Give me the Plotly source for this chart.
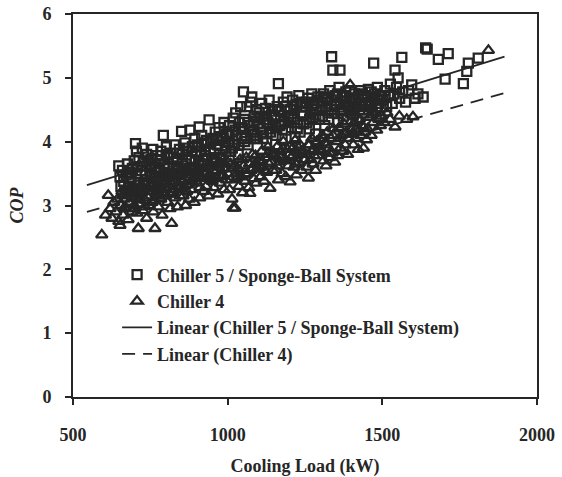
import plotly.graph_objects as go

# ---- Chiller 5 / Sponge-Ball System (squares) ----
chiller5_load_a = [
    648, 652, 655, 660, 664, 668, 672, 676, 680, 684, 688, 692, 695, 698,
    702, 705, 708, 710, 713, 716, 720, 724, 727, 730, 734, 738, 742, 746, 749,
    752, 755, 758, 762, 765, 768, 772, 776, 780, 784, 788, 792, 795, 798,
    802, 805, 808, 812, 816, 820, 824, 828, 832, 836, 840, 844, 848,
    851, 854, 858, 862, 866, 870, 874, 878, 882, 886, 890, 894, 898,
    902, 906, 908, 912, 916, 920, 924, 928, 932, 936, 940, 944, 948,
    952, 956, 960, 964, 968, 972, 976, 980, 984, 988, 992, 996,
    1002, 1006, 1010, 1014, 1018, 1022, 1026, 1030, 1034, 1038, 1042, 1046, 1049,
    1051, 1054, 1058, 1062, 1066, 1070, 1074, 1078, 1082, 1086, 1090, 1094, 1098,
    1102, 1106, 1110, 1114, 1118, 1122, 1126, 1130, 1134, 1138, 1142, 1146,
    1152, 1156, 1160, 1164, 1168, 1172, 1176, 1180, 1184, 1188, 1192, 1196,
    1202, 1206, 1210, 1214, 1218, 1222, 1226, 1230, 1234, 1238, 1242, 1246,
    1252, 1256, 1260, 1264, 1268, 1272, 1276, 1280, 1284, 1288, 1292, 1296,
    1302, 1306, 1310, 1314, 1318, 1322, 1326, 1330, 1334, 1336, 1340, 1344, 1348,
    1352, 1356, 1360, 1363, 1366, 1370, 1374, 1378, 1382, 1386, 1390, 1394, 1398,
    1402, 1406, 1410, 1414, 1418, 1422, 1426, 1430, 1434, 1438, 1442, 1446,
    1452, 1456, 1460, 1464, 1468, 1472, 1476, 1480, 1484, 1488, 1492, 1496,
    1502, 1508, 1514, 1520, 1526, 1532, 1538, 1541, 1546, 1551, 1556,
    1563, 1566, 1575, 1585, 1595, 1606, 1615, 1632, 1640, 1645, 1681, 1703, 1713, 1762, 1773, 1778, 1810,
]
chiller5_cop_a = [
    3.62, 3.45, 3.30, 3.55, 3.38, 3.20, 3.48, 3.65, 3.30, 3.52, 3.42, 3.58, 3.25, 3.70,
    3.97, 3.85, 3.60, 3.40, 3.75, 3.25, 3.55, 3.90, 3.35, 3.68, 3.48, 3.80, 3.15, 3.62, 3.45,
    3.72, 3.50, 3.88, 3.30, 3.60, 3.42, 3.78, 3.20, 3.55, 3.85, 3.38, 4.10, 3.65, 3.48,
    3.92, 3.58, 3.75, 3.35, 3.82, 3.50, 3.68, 3.95, 3.40, 3.72, 3.60, 3.88, 3.30,
    4.16, 3.80, 3.55, 3.98, 3.65, 3.85, 3.45, 4.18, 3.72, 3.92, 3.60, 4.05, 3.50,
    3.95, 3.70, 4.23, 3.85, 4.10, 3.62, 3.98, 3.78, 4.02, 3.55, 4.34, 3.88, 3.72,
    4.05, 3.82, 4.15, 3.68, 3.95, 4.22, 3.75, 4.08, 3.60, 4.30, 3.90, 4.12,
    4.00, 4.25, 3.85, 4.15, 4.37, 3.95, 4.45, 4.10, 3.80, 4.30, 4.55, 4.05, 4.20,
    4.78, 4.35, 4.10, 4.55, 3.95, 4.25, 4.62, 4.70, 4.15, 4.40, 4.05, 4.50, 4.28,
    4.45, 4.20, 4.60, 4.05, 4.35, 4.52, 3.98, 4.30, 4.65, 4.15, 4.42, 4.25,
    4.38, 4.10, 4.55, 4.91, 4.25, 4.48, 4.05, 4.62, 4.32, 4.18, 4.70, 4.40,
    4.50, 4.22, 4.65, 4.35, 4.08, 4.58, 4.30, 4.72, 4.15, 4.45, 4.62, 4.28,
    4.55, 4.30, 4.68, 4.20, 4.45, 4.75, 4.38, 4.60, 4.12, 4.50, 4.70, 4.35,
    4.62, 4.40, 4.75, 4.25, 4.55, 4.68, 4.35, 4.80, 4.50, 5.33, 5.12, 4.45, 4.72,
    4.58, 4.30, 4.85, 5.12, 4.48, 4.70, 4.40, 4.62, 4.78, 4.35, 4.55, 4.68, 4.45,
    4.65, 4.42, 4.75, 4.55, 4.35, 4.70, 4.50, 4.80, 4.60, 4.45, 4.72, 4.58,
    4.70, 4.50, 4.62, 4.78, 4.45, 5.23, 4.68, 4.55, 4.85, 4.60, 4.40, 4.72,
    4.65, 4.80, 4.55, 4.72, 4.90, 4.60, 4.75, 5.12, 4.85, 5.00, 4.68,
    5.32, 4.78, 4.62, 4.80, 4.89, 4.68, 4.75, 4.70, 5.47, 5.45, 5.29, 4.98, 5.38, 4.91, 5.10, 5.23, 5.31,
]
chiller5_load_b = [
    705, 715, 725, 735, 745, 755, 765, 775, 785, 795,
    805, 815, 825, 835, 845, 855, 865, 875, 885, 895,
    905, 915, 925, 935, 945, 955, 965, 975, 985, 995,
    1005, 1015, 1025, 1035, 1045, 1055, 1065, 1075, 1085, 1095,
    1105, 1115, 1125, 1135, 1145, 1155, 1165, 1175, 1185, 1195,
    1205, 1215, 1225, 1235, 1245, 1255, 1265, 1275, 1285, 1295,
    1305, 1315, 1325, 1335, 1345, 1355, 1365, 1375, 1385, 1395,
    1405, 1415, 1425, 1435, 1445, 1455, 1465, 1475, 1485, 1495,
]
chiller5_cop_b = [
    3.50, 3.32, 3.62, 3.40, 3.70, 3.38, 3.66, 3.45, 3.72, 3.52,
    3.80, 3.48, 3.76, 3.55, 3.82, 3.62, 3.90, 3.58, 3.85, 3.68,
    3.92, 3.65, 3.88, 3.72, 3.98, 3.75, 4.02, 3.80, 4.05, 3.85,
    4.10, 3.90, 4.18, 3.95, 4.22, 4.00, 4.30, 4.05, 4.32, 4.10,
    4.38, 4.15, 4.40, 4.20, 4.48, 4.22, 4.50, 4.28, 4.55, 4.30,
    4.38, 4.55, 4.20, 4.60, 4.40, 4.62, 4.35, 4.58, 4.42, 4.65,
    4.50, 4.70, 4.45, 4.65, 4.55, 4.75, 4.50, 4.72, 4.58, 4.80,
    4.52, 4.68, 4.60, 4.75, 4.55, 4.82, 4.58, 4.75, 4.65, 4.55,
]

# ---- Chiller 4 (triangles) ----
chiller4_load_a = [
    593, 605, 614, 620, 626, 632, 638, 644, 648,
    652, 655, 658, 662, 666, 670, 674, 678, 682, 686, 690, 694, 698,
    702, 706, 711, 714, 718, 722, 726, 730, 734, 738, 742, 746,
    752, 756, 760, 765, 768, 772, 776, 780, 784, 788, 792, 796,
    802, 806, 810, 814, 819, 822, 826, 830, 834, 838, 842, 846,
    852, 856, 860, 864, 868, 872, 876, 880, 884, 888, 892, 896,
    902, 906, 910, 914, 918, 922, 926, 930, 934, 938, 942, 946,
    952, 956, 960, 964, 968, 972, 976, 980, 984, 988, 992, 996,
    1002, 1006, 1010, 1014, 1018, 1024, 1028, 1032, 1036, 1040, 1044, 1048,
    1052, 1056, 1060, 1064, 1068, 1072, 1076, 1080, 1084, 1088, 1092, 1096,
    1102, 1106, 1110, 1114, 1118, 1122, 1126, 1130, 1134, 1137, 1142, 1146,
    1152, 1156, 1160, 1164, 1168, 1172, 1176, 1180, 1184, 1188, 1192, 1196,
    1202, 1206, 1210, 1214, 1218, 1222, 1226, 1230, 1234, 1238, 1242, 1246,
    1252, 1256, 1261, 1264, 1268, 1272, 1276, 1280, 1284, 1288, 1292, 1296,
    1302, 1306, 1310, 1314, 1318, 1322, 1326, 1330, 1334, 1338, 1342, 1346,
    1352, 1356, 1360, 1364, 1368, 1372, 1376, 1380, 1384, 1388, 1392, 1396,
    1402, 1406, 1410, 1414, 1418, 1422, 1426, 1430, 1434, 1439, 1443, 1449,
    1452, 1458, 1464, 1470, 1476, 1482, 1488, 1494, 1498,
    1506, 1515, 1525, 1541, 1555, 1579, 1599, 1843,
]
chiller4_cop_a = [
    2.54, 2.85, 3.16, 2.95, 2.80, 3.05, 2.90, 3.10, 2.75,
    2.69, 3.00, 3.22, 2.85, 3.10, 2.95, 3.30, 2.78, 3.05, 3.18, 2.90, 3.25, 3.00,
    3.15, 2.88, 2.64, 3.28, 3.02, 3.20, 2.92, 3.35, 3.08, 2.80, 3.22, 3.00,
    3.30, 3.05, 2.90, 2.64, 3.18, 3.40, 2.98, 3.25, 3.10, 2.85, 3.35, 3.15,
    3.28, 3.05, 3.45, 2.95, 2.72, 3.20, 3.38, 3.12, 3.50, 2.98, 3.30, 3.15,
    3.40, 3.15, 3.55, 3.00, 3.32, 3.48, 3.10, 3.60, 3.25, 3.42, 3.05, 3.52,
    3.35, 3.58, 3.12, 3.45, 3.68, 3.22, 3.50, 3.30, 3.62, 3.15, 3.48, 3.40,
    3.55, 3.28, 3.70, 3.42, 3.18, 3.60, 3.35, 3.75, 3.48, 3.25, 3.65, 3.40,
    3.50, 3.25, 3.65, 3.10, 2.96, 2.96, 3.42, 3.58, 3.30, 3.72, 3.45, 3.20,
    3.62, 3.38, 3.75, 3.50, 3.28, 3.19, 3.55, 3.80, 3.42, 3.65, 3.35, 3.58,
    3.70, 3.45, 3.85, 3.60, 3.38, 3.75, 3.52, 3.92, 3.65, 3.27, 3.80, 3.55,
    3.78, 3.55, 3.92, 3.40, 3.68, 3.85, 3.50, 4.00, 3.72, 3.45, 3.88, 3.62,
    3.37, 3.75, 3.90, 3.60, 4.02, 3.48, 3.82, 3.68, 3.95, 3.55, 3.85, 3.72,
    3.80, 3.60, 3.43, 3.95, 3.72, 4.05, 3.65, 3.88, 3.55, 4.00, 3.78, 3.92,
    3.85, 4.10, 3.70, 3.98, 3.62, 4.15, 3.90, 3.75, 4.05, 3.82, 4.20, 3.68,
    4.00, 3.78, 4.22, 3.90, 4.10, 3.85, 4.28, 3.95, 4.15, 3.80, 4.05, 4.89,
    4.12, 3.95, 4.30, 4.05, 4.20, 3.88, 4.35, 4.10, 4.25, 3.90, 4.15, 4.03,
    4.20, 4.38, 4.10, 4.30, 4.45, 4.18, 4.35, 4.25, 4.40,
    4.30, 4.45, 4.35, 4.23, 4.40, 4.35, 4.39, 5.43,
]
chiller4_load_b = [
    660, 668, 676, 684, 692, 700, 708, 716, 724, 732,
    740, 748, 756, 764, 772, 780, 788, 796, 804, 812,
    820, 828, 836, 844, 852, 860, 868, 876, 884, 892,
    900, 910, 920, 930, 940, 950, 960, 970, 980, 990,
    1000, 1010, 1020, 1030, 1040, 1050, 1060, 1070, 1080, 1090,
    1100, 1110, 1120, 1130, 1140, 1150, 1160, 1170, 1180, 1190,
    1200, 1210, 1220, 1230, 1240, 1250, 1260, 1270, 1280, 1290,
    1300, 1310, 1320, 1330, 1340, 1360, 1380, 1400, 1420, 1440,
]
chiller4_cop_b = [
    3.15, 2.98, 3.20, 3.05, 3.12, 2.95, 3.25, 3.10, 3.30, 2.98,
    3.15, 3.32, 3.22, 3.08, 3.28, 3.12, 3.38, 3.20, 3.42, 3.18,
    3.35, 3.25, 3.45, 3.28, 3.48, 3.30, 3.22, 3.52, 3.38, 3.45,
    3.55, 3.28, 3.58, 3.42, 3.62, 3.38, 3.52, 3.65, 3.45, 3.58,
    3.68, 3.40, 3.62, 3.50, 3.55, 3.72, 3.48, 3.65, 3.58, 3.78,
    3.62, 3.70, 3.55, 3.80, 3.68, 3.82, 3.62, 3.75, 3.88, 3.70,
    3.92, 3.78, 3.65, 3.90, 3.82, 3.72, 3.95, 3.85, 3.78, 4.00,
    3.88, 4.05, 3.95, 3.82, 4.10, 4.05, 4.12, 4.18, 4.15, 4.22,
]

chiller5_load = chiller5_load_a + chiller5_load_b
chiller5_cop = chiller5_cop_a + chiller5_cop_b
chiller4_load = chiller4_load_a + chiller4_load_b
chiller4_cop = chiller4_cop_a + chiller4_cop_b

# ---- Linear trendlines ----
fit_load_range = [545, 1895]
chiller5_fit = {"slope": 0.00149, "intercept": 2.508}
chiller4_fit = {"slope": 0.00138, "intercept": 2.148}

x_ticks = [500, 1000, 1500, 2000]
y_ticks = [0, 1, 2, 3, 4, 5, 6]

INK = "#262626"
FONT = "Liberation Serif"

fig = go.Figure()
fig.add_trace(go.Scatter(
    x=chiller4_load, y=chiller4_cop, mode="markers",
    name="Chiller 4", legendrank=2,
    marker=dict(symbol="triangle-up-open", size=10, color=INK, line=dict(width=2.3, color=INK)),
))
fig.add_trace(go.Scatter(
    x=chiller5_load, y=chiller5_cop, mode="markers",
    name="Chiller 5 / Sponge-Ball System", legendrank=1,
    marker=dict(symbol="square-open", size=9, color=INK, line=dict(width=2.3, color=INK)),
))
fig.add_trace(go.Scatter(
    x=fit_load_range,
    y=[chiller5_fit["slope"] * v + chiller5_fit["intercept"] for v in fit_load_range],
    mode="lines", name="Linear (Chiller 5 / Sponge-Ball System)", legendrank=3,
    line=dict(color=INK, width=1.8),
))
fig.add_trace(go.Scatter(
    x=fit_load_range,
    y=[chiller4_fit["slope"] * v + chiller4_fit["intercept"] for v in fit_load_range],
    mode="lines", name="Linear (Chiller 4)", legendrank=4,
    line=dict(color=INK, width=1.8, dash="13px,8px"),
))

axis_common = dict(
    showline=True, linecolor=INK, linewidth=2, mirror=True,
    ticks="outside", ticklen=6, tickwidth=2, tickcolor=INK,
    showgrid=False, zeroline=False, automargin=False,
    tickfont=dict(family=FONT, size=18, color=INK, weight="bold"),
)

fig.update_layout(
    width=562, height=477,
    margin=dict(l=73, r=25, t=14, b=80),
    paper_bgcolor="white", plot_bgcolor="white",
    font=dict(family=FONT, color=INK),
    showlegend=True,
    legend=dict(
        x=0.095, y=0.367, xanchor="left", yanchor="top",
        bgcolor="rgba(0,0,0,0)", borderwidth=0,
        font=dict(family=FONT, size=18, color=INK, weight="bold"),
        tracegroupgap=0, traceorder="normal",
    ),
    xaxis=dict(
        range=[500, 2000], tickvals=x_ticks, ticktext=[str(v) for v in x_ticks],
        ticklabelstandoff=14,
        title=dict(text="Cooling Load (kW)", font=dict(family=FONT, size=18, color=INK, weight="bold"), standoff=17),
        **axis_common,
    ),
    yaxis=dict(
        range=[0, 6], tickvals=y_ticks, ticktext=[str(v) for v in y_ticks],
        ticklabelstandoff=10,
        title=dict(text="<i>COP</i>", font=dict(family=FONT, size=18, color=INK, weight="bold"), standoff=14),
        **axis_common,
    ),
)

fig.write_html("out.html")
